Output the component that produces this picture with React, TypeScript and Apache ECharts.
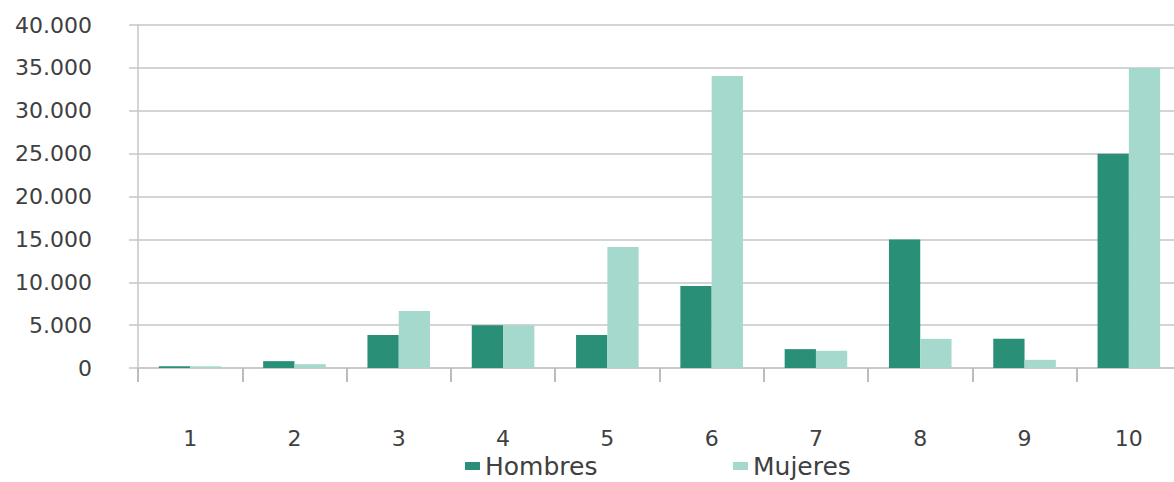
import React, { useEffect, useRef } from "react";
import * as echarts from "echarts";

const categories = ["1", "2", "3", "4", "5", "6", "7", "8", "9", "10"];
const hombres = [200, 800, 3850, 5000, 3850, 9550, 2200, 15000, 3400, 25000];
const mujeres = [200, 450, 6650, 5000, 14100, 34050, 2000, 3400, 950, 35000];
const yTicks = { min: 0, max: 40000, interval: 5000 };

const FONT = "DejaVu Sans";
const TEXT = "#404040";

function fmt(v: number): string {
  return String(v).replace(/\B(?=(\d{3})+(?!\d))/g, ".");
}

export default function App() {
  const ref = useRef<HTMLDivElement>(null);
  useEffect(() => {
    if (!ref.current) return;
    const chart = echarts.init(ref.current, undefined, { renderer: "svg" });
    const legendText = { fontFamily: FONT, fontSize: 25, color: TEXT, lineHeight: 26 };
    chart.setOption({
      animation: false,
      textStyle: { fontFamily: FONT },
      grid: { left: 138, right: 0, top: 25, bottom: 114, containLabel: false },
      legend: [
        {
          data: ["Hombres"],
          left: 463,
          top: 451,
          padding: 2,
          itemWidth: 15,
          itemHeight: 8,
          itemGap: 0,
          textStyle: legendText,
          icon: "rect",
        },
        {
          data: ["Mujeres"],
          left: 731,
          top: 451,
          padding: 2,
          itemWidth: 15,
          itemHeight: 8,
          itemGap: 0,
          textStyle: legendText,
          icon: "rect",
        },
      ],
      xAxis: {
        type: "category",
        data: categories,
        boundaryGap: true,
        axisLine: { show: true, lineStyle: { color: "#c6c6c6", width: 1.5 } },
        axisTick: { show: true, length: 14, lineStyle: { color: "#bcbcc0", width: 2 } },
        axisLabel: { fontFamily: FONT, fontSize: 22, color: TEXT, margin: 59 },
      },
      yAxis: {
        type: "value",
        min: yTicks.min,
        max: yTicks.max,
        interval: yTicks.interval,
        axisLine: { show: true, lineStyle: { color: "#c6c6c6", width: 1.5 } },
        axisTick: { show: true, length: 9, lineStyle: { color: "#c6c6c6", width: 1.5 } },
        splitLine: { show: true, lineStyle: { color: "#c6c6c6", width: 1.5 } },
        axisLabel: {
          fontFamily: FONT,
          fontSize: 22,
          color: TEXT,
          margin: 46,
          formatter: (v: number) => fmt(v),
        },
      },
      series: [
        {
          name: "Hombres",
          type: "bar",
          data: hombres,
          barGap: "0%",
          barCategoryGap: "40%",
          itemStyle: { color: "#2a8f77" },
        },
        {
          name: "Mujeres",
          type: "bar",
          data: mujeres,
          barGap: "0%",
          barCategoryGap: "40%",
          itemStyle: { color: "#a6d9cd" },
        },
      ],
    });
    return () => chart.dispose();
  }, []);
  return (
    <div
      style={{
        position: "absolute",
        left: 0,
        top: 0,
        width: 1174,
        height: 482,
        overflow: "hidden",
      }}
    >
      <div ref={ref} style={{ width: 1181, height: 482 }} />
    </div>
  );
}
